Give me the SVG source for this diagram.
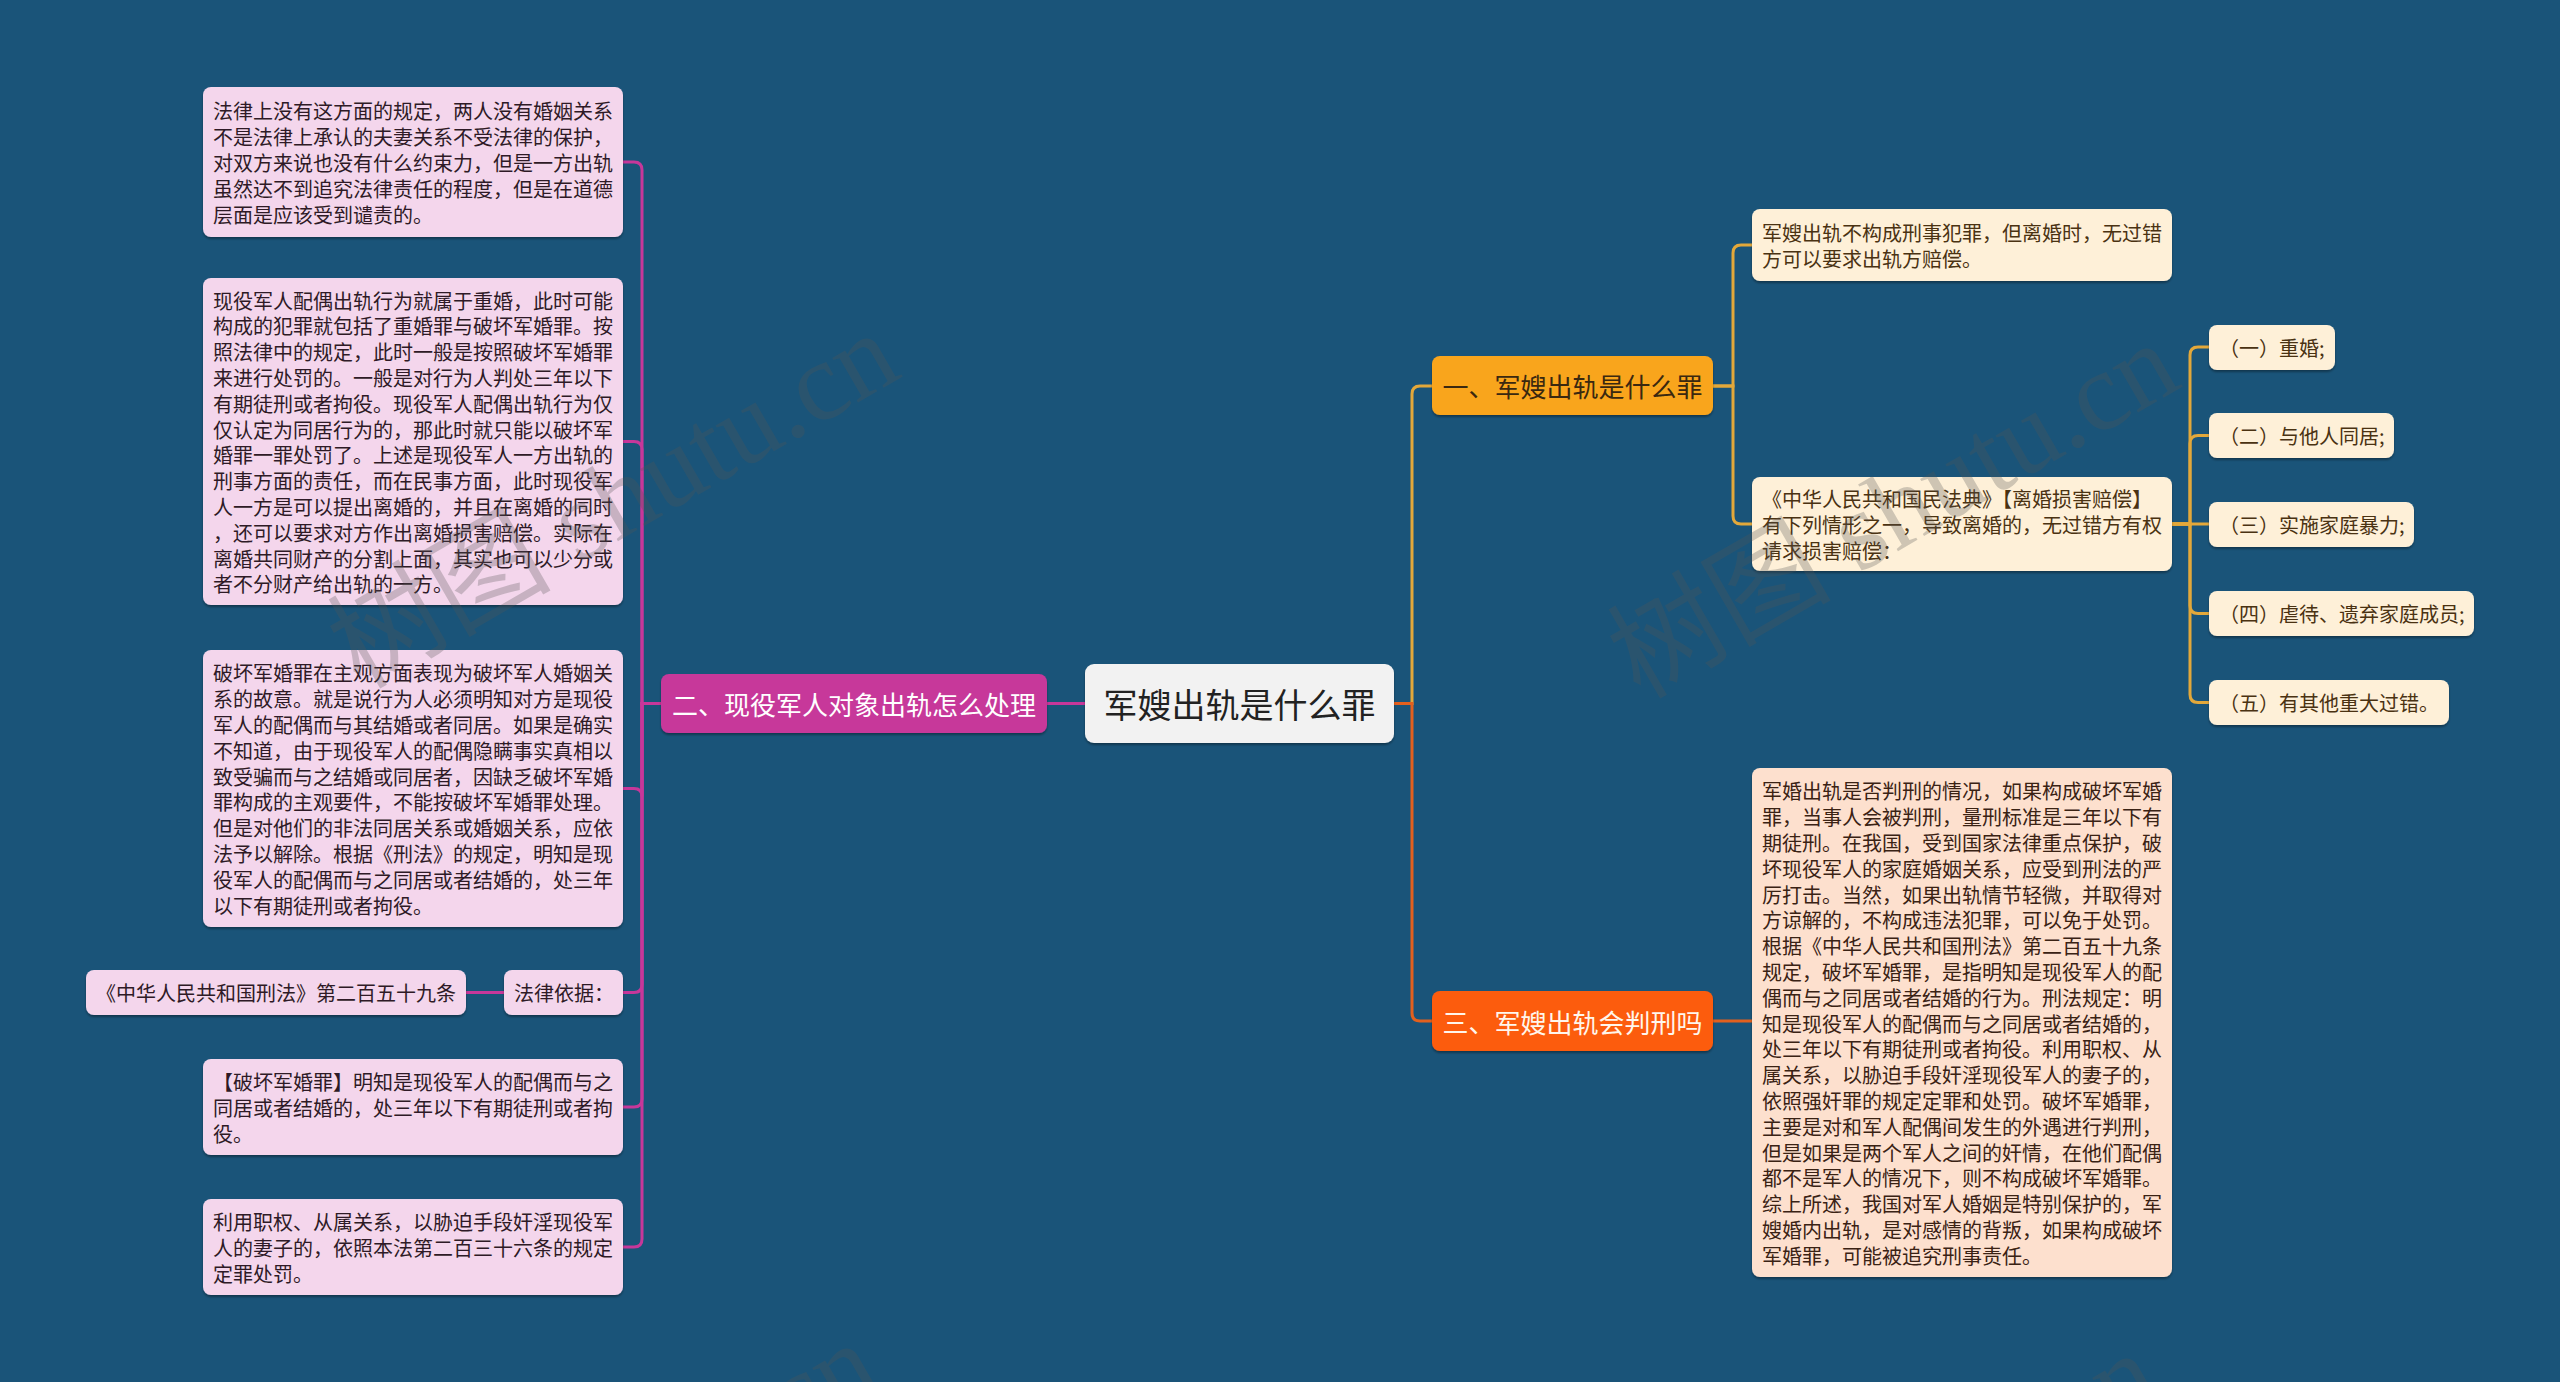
<svg xmlns="http://www.w3.org/2000/svg" width="2560" height="1382" viewBox="0 0 2560 1382">
<defs>
<filter id="sh" x="-5%" y="-5%" width="110%" height="120%">
<feDropShadow dx="0" dy="2" stdDeviation="1.2" flood-color="#000" flood-opacity="0.35"/>
</filter>
<style>
text{font-family:"Noto Sans CJK SC","Noto Sans",sans-serif;dominant-baseline:central}
.lf{fill:#F4D6EC;filter:url(#sh)}
.lt{font-size:20px;fill:#2E1A26}
.rf{fill:#FEF0D8;filter:url(#sh)}
.rt{font-size:20px;fill:#4A3212}
.pf{fill:#FDE0CE;filter:url(#sh)}
.pt{font-size:20px;fill:#3A2214}
.sec{font-size:26px}
.cm{fill:none;stroke:#C7379A;stroke-width:3}
.cg{fill:none;stroke:#E3A83A;stroke-width:3}
.co{fill:none;stroke:#E2601E;stroke-width:3}
.wm{font-family:"Liberation Serif","Noto Sans CJK SC",serif;font-size:112px;fill:#555;opacity:0.28;dominant-baseline:auto}
</style>
</defs>
<rect width="2560" height="1382" fill="#1A5479"/>

<g id="connectors">
<path class="cm" d="M661,703.5 H642 V170 Q642,162 634,162 H623"/>
<path class="cm" d="M661,703.5 H642 V449.5 Q642,441.5 634,441.5 H623"/>
<path class="cm" d="M661,703.5 H642 V796.5 Q642,788.5 634,788.5 H623"/>
<path class="cm" d="M661,703.5 H642 V984.5 Q642,992.5 634,992.5 H623"/>
<path class="cm" d="M661,703.5 H642 V1099 Q642,1107 634,1107 H623"/>
<path class="cm" d="M661,703.5 H642 V1239 Q642,1247 634,1247 H623"/>
<path class="cm" d="M504,992.5 H466"/>
<path class="cm" d="M1047,703.5 H1085"/>
<path class="cg" d="M1394,703.5 H1412 V394 Q1412,386 1420,386 H1432"/>
<path class="co" d="M1394,703.5 H1412 V1013 Q1412,1021 1420,1021 H1432"/>
<path class="cg" d="M1713,386 H1733 V253 Q1733,245 1741,245 H1752"/>
<path class="cg" d="M1713,386 H1733 V516 Q1733,524 1741,524 H1752"/>
<path class="co" d="M1713,1021 H1752"/>
<path class="cg" d="M2172,524 H2190 V355 Q2190,347 2198,347 H2209"/>
<path class="cg" d="M2172,524 H2190 V443.5 Q2190,435.5 2198,435.5 H2209"/>
<path class="cg" d="M2172,524 H2209"/>
<path class="cg" d="M2172,524 H2190 V605.5 Q2190,613.5 2198,613.5 H2209"/>
<path class="cg" d="M2172,524 H2190 V694.5 Q2190,702.5 2198,702.5 H2209"/>
</g>

<g id="root">
<rect x="1085" y="664" width="309" height="79" rx="9" fill="#F2F2F2" filter="url(#sh)"/>
<text x="1239.5" y="703.5" text-anchor="middle" font-size="34" fill="#222">军嫂出轨是什么罪</text>
</g>

<g id="sec2">
<rect x="661" y="674" width="386" height="59" rx="8" fill="#C7379A" filter="url(#sh)"/>
<text class="sec" x="854" y="703.5" text-anchor="middle" fill="#FFFFFF">二、现役军人对象出轨怎么处理</text>
</g>

<g id="sec1">
<rect x="1432" y="356" width="281" height="59" rx="8" fill="#F9A51E" filter="url(#sh)"/>
<text class="sec" x="1572.5" y="385.5" text-anchor="middle" fill="#3A2810">一、军嫂出轨是什么罪</text>
</g>

<g id="sec3">
<rect x="1432" y="991" width="281" height="60" rx="8" fill="#FC5C10" filter="url(#sh)"/>
<text class="sec" x="1572.5" y="1021" text-anchor="middle" fill="#FFF6EC">三、军嫂出轨会判刑吗</text>
</g>

<g id="l1">
<rect class="lf" x="203" y="87" width="420" height="150" rx="8"/>
<text class="lt" x="213" y="110.4"><tspan x="213">法律上没有这方面的规定，两人没有婚姻关系</tspan><tspan x="213" dy="25.8">不是法律上承认的夫妻关系不受法律的保护，</tspan><tspan x="213" dy="25.8">对双方来说也没有什么约束力，但是一方出轨</tspan><tspan x="213" dy="25.8">虽然达不到追究法律责任的程度，但是在道德</tspan><tspan x="213" dy="25.8">层面是应该受到谴责的。</tspan></text>
</g>

<g id="l2">
<rect class="lf" x="203" y="278" width="420" height="327" rx="8"/>
<text class="lt" x="213" y="299.6"><tspan x="213">现役军人配偶出轨行为就属于重婚，此时可能</tspan><tspan x="213" dy="25.8">构成的犯罪就包括了重婚罪与破坏军婚罪。按</tspan><tspan x="213" dy="25.8">照法律中的规定，此时一般是按照破坏军婚罪</tspan><tspan x="213" dy="25.8">来进行处罚的。一般是对行为人判处三年以下</tspan><tspan x="213" dy="25.8">有期徒刑或者拘役。现役军人配偶出轨行为仅</tspan><tspan x="213" dy="25.8">仅认定为同居行为的，那此时就只能以破坏军</tspan><tspan x="213" dy="25.8">婚罪一罪处罚了。上述是现役军人一方出轨的</tspan><tspan x="213" dy="25.8">刑事方面的责任，而在民事方面，此时现役军</tspan><tspan x="213" dy="25.8">人一方是可以提出离婚的，并且在离婚的同时</tspan><tspan x="213" dy="25.8">，还可以要求对方作出离婚损害赔偿。实际在</tspan><tspan x="213" dy="25.8">离婚共同财产的分割上面，其实也可以少分或</tspan><tspan x="213" dy="25.8">者不分财产给出轨的一方。</tspan></text>
</g>

<g id="l3">
<rect class="lf" x="203" y="650" width="420" height="277" rx="8"/>
<text class="lt" x="213" y="672.4"><tspan x="213">破坏军婚罪在主观方面表现为破坏军人婚姻关</tspan><tspan x="213" dy="25.8">系的故意。就是说行为人必须明知对方是现役</tspan><tspan x="213" dy="25.8">军人的配偶而与其结婚或者同居。如果是确实</tspan><tspan x="213" dy="25.8">不知道，由于现役军人的配偶隐瞒事实真相以</tspan><tspan x="213" dy="25.8">致受骗而与之结婚或同居者，因缺乏破坏军婚</tspan><tspan x="213" dy="25.8">罪构成的主观要件，不能按破坏军婚罪处理。</tspan><tspan x="213" dy="25.8">但是对他们的非法同居关系或婚姻关系，应依</tspan><tspan x="213" dy="25.8">法予以解除。根据《刑法》的规定，明知是现</tspan><tspan x="213" dy="25.8">役军人的配偶而与之同居或者结婚的，处三年</tspan><tspan x="213" dy="25.8">以下有期徒刑或者拘役。</tspan></text>
</g>

<g id="l4">
<rect class="lf" x="504" y="970" width="119" height="45" rx="8"/>
<text class="lt" x="514" y="992.5">法律依据：</text>
</g>

<g id="l4a">
<rect class="lf" x="86" y="970" width="380" height="45" rx="8"/>
<text class="lt" x="96" y="992.5">《中华人民共和国刑法》第二百五十九条</text>
</g>

<g id="l5">
<rect class="lf" x="203" y="1059" width="420" height="96" rx="8"/>
<text class="lt" x="213" y="1081.3"><tspan x="213">【破坏军婚罪】明知是现役军人的配偶而与之</tspan><tspan x="213" dy="25.8">同居或者结婚的，处三年以下有期徒刑或者拘</tspan><tspan x="213" dy="25.8">役。</tspan></text>
</g>

<g id="l6">
<rect class="lf" x="203" y="1199" width="420" height="96" rx="8"/>
<text class="lt" x="213" y="1221.3"><tspan x="213">利用职权、从属关系，以胁迫手段奸淫现役军</tspan><tspan x="213" dy="25.8">人的妻子的，依照本法第二百三十六条的规定</tspan><tspan x="213" dy="25.8">定罪处罚。</tspan></text>
</g>

<g id="r1">
<rect class="rf" x="1752" y="209" width="420" height="72" rx="8"/>
<text class="rt" x="1762" y="232.1"><tspan x="1762">军嫂出轨不构成刑事犯罪，但离婚时，无过错</tspan><tspan x="1762" dy="25.8">方可以要求出轨方赔偿。</tspan></text>
</g>

<g id="r2">
<rect class="rf" x="1752" y="477" width="420" height="94" rx="8"/>
<text class="rt" x="1762" y="498.2"><tspan x="1762">《中华人民共和国民法典》【离婚损害赔偿】</tspan><tspan x="1762" dy="25.8">有下列情形之一，导致离婚的，无过错方有权</tspan><tspan x="1762" dy="25.8">请求损害赔偿：</tspan></text>
</g>

<g id="s1">
<rect class="rf" x="2209" y="325" width="126" height="45" rx="8"/>
<text class="rt" x="2219" y="347.5">（一）重婚;</text>
</g>
<g id="s2">
<rect class="rf" x="2209" y="413" width="185" height="45" rx="8"/>
<text class="rt" x="2219" y="435.5">（二）与他人同居;</text>
</g>
<g id="s3">
<rect class="rf" x="2209" y="502" width="205" height="45" rx="8"/>
<text class="rt" x="2219" y="524.5">（三）实施家庭暴力;</text>
</g>
<g id="s4">
<rect class="rf" x="2209" y="591" width="265" height="45" rx="8"/>
<text class="rt" x="2219" y="613.5">（四）虐待、遗弃家庭成员;</text>
</g>
<g id="s5">
<rect class="rf" x="2209" y="680" width="240" height="45" rx="8"/>
<text class="rt" x="2219" y="702.5">（五）有其他重大过错。</text>
</g>

<g id="r3">
<rect class="pf" x="1752" y="768" width="420" height="509" rx="8"/>
<text class="pt" x="1762" y="790.4"><tspan x="1762">军婚出轨是否判刑的情况，如果构成破坏军婚</tspan><tspan x="1762" dy="25.8">罪，当事人会被判刑，量刑标准是三年以下有</tspan><tspan x="1762" dy="25.8">期徒刑。在我国，受到国家法律重点保护，破</tspan><tspan x="1762" dy="25.8">坏现役军人的家庭婚姻关系，应受到刑法的严</tspan><tspan x="1762" dy="25.8">厉打击。当然，如果出轨情节轻微，并取得对</tspan><tspan x="1762" dy="25.8">方谅解的，不构成违法犯罪，可以免于处罚。</tspan><tspan x="1762" dy="25.8">根据《中华人民共和国刑法》第二百五十九条</tspan><tspan x="1762" dy="25.8">规定，破坏军婚罪，是指明知是现役军人的配</tspan><tspan x="1762" dy="25.8">偶而与之同居或者结婚的行为。刑法规定：明</tspan><tspan x="1762" dy="25.8">知是现役军人的配偶而与之同居或者结婚的，</tspan><tspan x="1762" dy="25.8">处三年以下有期徒刑或者拘役。利用职权、从</tspan><tspan x="1762" dy="25.8">属关系，以胁迫手段奸淫现役军人的妻子的，</tspan><tspan x="1762" dy="25.8">依照强奸罪的规定定罪和处罚。破坏军婚罪，</tspan><tspan x="1762" dy="25.8">主要是对和军人配偶间发生的外遇进行判刑，</tspan><tspan x="1762" dy="25.8">但是如果是两个军人之间的奸情，在他们配偶</tspan><tspan x="1762" dy="25.8">都不是军人的情况下，则不构成破坏军婚罪。</tspan><tspan x="1762" dy="25.8">综上所述，我国对军人婚姻是特别保护的，军</tspan><tspan x="1762" dy="25.8">嫂婚内出轨，是对感情的背叛，如果构成破坏</tspan><tspan x="1762" dy="25.8">军婚罪，可能被追究刑事责任。</tspan></text>
</g>

<g id="watermark">
<text class="wm" x="360" y="690" transform="rotate(-30 360 690)">树图 shutu.cn</text>
<text class="wm" x="1640" y="700" transform="rotate(-30 1640 700)">树图 shutu.cn</text>
<text class="wm" x="340" y="1700" transform="rotate(-30 340 1700)">树图 shutu.cn</text>
<text class="wm" x="1620" y="1710" transform="rotate(-30 1620 1710)">树图 shutu.cn</text>
</g>
</svg>
